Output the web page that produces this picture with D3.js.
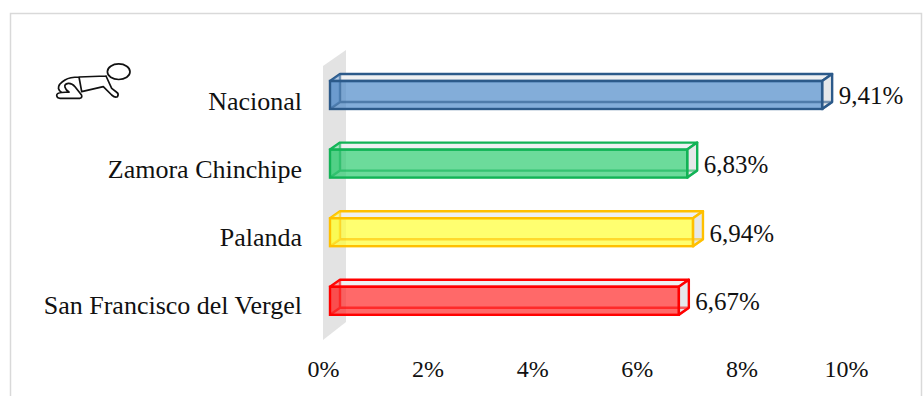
<!DOCTYPE html>
<html><head><meta charset="utf-8">
<script src="https://cdn.jsdelivr.net/npm/d3@7/dist/d3.min.js"></script>
<style>html,body{margin:0;padding:0;background:#fff;overflow:hidden}svg{display:block}
text{font-family:"Liberation Serif",serif;fill:#111}</style></head><body>
<svg id="c" width="924" height="396"></svg>
<script>
const categories=["Nacional","Zamora Chinchipe","Palanda","San Francisco del Vergel"];
const values=[9.41,6.83,6.94,6.67];
const valueLabels=["9,41%","6,83%","6,94%","6,67%"];
const tickValues=[0,2,4,6,8,10];
const fills=["#4f8ac9","#2ecc71","#ffff33","#ff2a2a"];
const strokes=["#2c5a8a","#12b356","#ffc000","#ff0000"];

const svg=d3.select("#c");
const x=d3.scaleLinear().domain([0,10]).range([330,853]);
const y=d3.scaleBand().domain(categories).range([46.7,349.1]).paddingInner(0.592).paddingOuter(0.5);
const dx=10,dy=-7;

svg.append("path").attr("d","M10.5,396V13.5H921.5V396").attr("fill","none").attr("stroke","#d9d9d9").attr("stroke-width",1.5);

const wl=x(0)-7,wr=x(0)+16;
svg.append("polygon").attr("fill","#e3e3e3")
  .attr("points",[[wl,66],[wr,50],[wr,322],[wl,340]].join(" "));

const pts=a=>a.join(" ");
const g=svg.selectAll("g.bar").data(categories).join("g").attr("class","bar");
g.each(function(c,i){
  const s=d3.select(this),x0=x(0),x1=x(values[i]),t=y(c),b=t+y.bandwidth();
  const st=strokes[i],sw=2.4;
  s.append("polygon").attr("points",pts([[x0,t],[x0+dx,t+dy],[x1+dx,t+dy],[x1,t]])).attr("fill","#eef0f2").attr("stroke",st).attr("stroke-width",sw).attr("stroke-linejoin","round");
  s.append("polygon").attr("points",pts([[x1,t],[x1+dx,t+dy],[x1+dx,b+dy],[x1,b]])).attr("fill","#e6e8ea").attr("stroke",st).attr("stroke-width",sw).attr("stroke-linejoin","round");
  s.append("rect").attr("x",x0).attr("y",t).attr("width",x1-x0).attr("height",b-t).attr("fill",fills[i]).attr("fill-opacity",0.7);
  s.append("path").attr("d",`M${x0+dx},${t+dy}V${b+dy}H${x1+dx}M${x0},${b}L${x0+dx},${b+dy}M${x1},${b}L${x1+dx},${b+dy}`).attr("fill","none").attr("stroke",st).attr("stroke-opacity",0.6).attr("stroke-width",sw);
  s.append("polygon").attr("points",pts([[x0,t],[x0+dx,t+dy],[x0+dx,b+dy],[x0,b]])).attr("fill",fills[i]).attr("fill-opacity",0.35);
  s.append("rect").attr("x",x0).attr("y",t).attr("width",x1-x0).attr("height",b-t).attr("fill","none").attr("stroke",st).attr("stroke-width",sw);
  s.append("text").attr("x",x1+dx+6.5).attr("y",(t+b)/2+9.5).attr("font-size",25).text(valueLabels[i]);
  s.append("text").attr("x",302).attr("y",(t+b)/2+15-i*0.5).attr("text-anchor","end").attr("font-size",26).text(c);
});

const axis=d3.axisBottom(x).tickValues(tickValues).tickSize(0).tickPadding(0).tickFormat(d=>d+"%");
const ag=svg.append("g").attr("transform","translate(-7,360)").call(axis);
ag.select(".domain").remove();
ag.selectAll("text").attr("font-size",24).style("font-family",'"Liberation Serif",serif').attr("fill","#111");

const baby=svg.append("g").attr("fill","none").attr("stroke","#111").attr("stroke-width",1.7).attr("stroke-linejoin","round").attr("stroke-linecap","round");
baby.append("ellipse").attr("cx",118.7).attr("cy",71.7).attr("rx",11.3).attr("ry",7.8);
baby.append("path").attr("d","M106,76 L79,77 Q70,77 65,80 Q58,84 58.5,88.5 Q59,91 61.7,92.5 Q56.5,93 56.7,95.5 Q57,98.3 60,98.3 L80,98.3 Q82.5,97.5 81.5,95 L75,86.7 Q72,83 68.3,83.3 Q64,84 65,87.3 Q66,90.5 69,92 M61.7,92.5 L69,92 M81.7,91.7 L103.3,86.7 L111.7,95 Q115,98 117.5,96.7 Q119,94 117,92.5 L111.7,88.3 L106,76 M79,77 L81.7,91.7");
</script></body></html>
